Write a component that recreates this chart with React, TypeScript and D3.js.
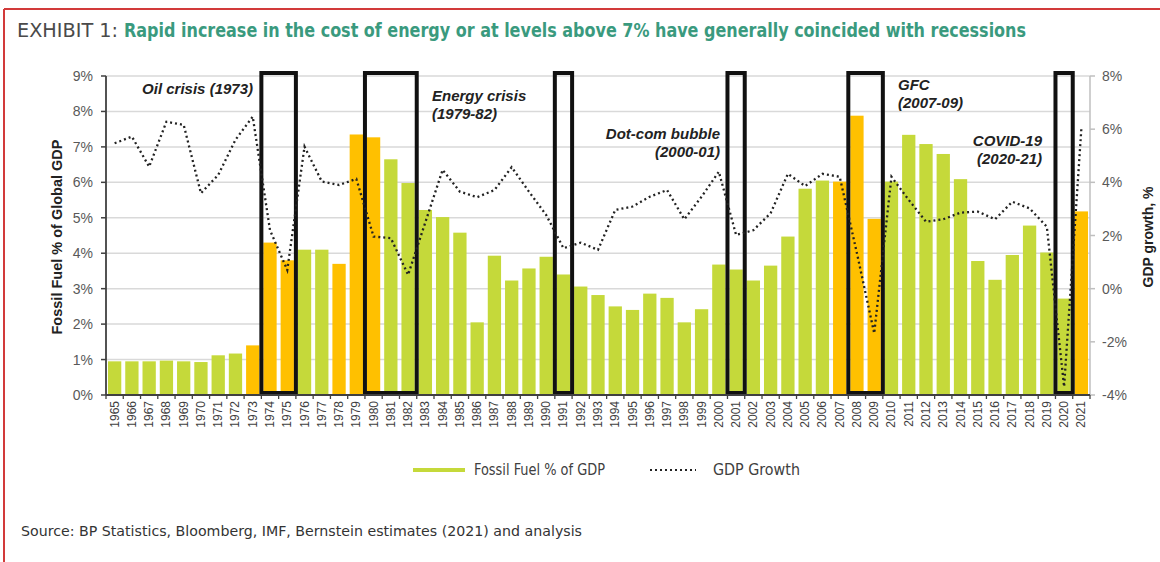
import React from "react";
import * as d3 from "d3";

const years = [
  "1965","1966","1967","1968","1969","1970","1971","1972","1973","1974",
  "1975","1976","1977","1978","1979","1980","1981","1982","1983","1984",
  "1985","1986","1987","1988","1989","1990","1991","1992","1993","1994",
  "1995","1996","1997","1998","1999","2000","2001","2002","2003","2004",
  "2005","2006","2007","2008","2009","2010","2011","2012","2013","2014",
  "2015","2016","2017","2018","2019","2020","2021",
];

// Fossil fuel spend as % of global GDP (left axis)
const fossilShare = [
  0.95, 0.95, 0.95, 0.97, 0.95, 0.93, 1.12, 1.17, 1.40, 4.30,
  3.80, 4.10, 4.10, 3.70, 7.35, 7.27, 6.65, 5.98, 5.22, 5.02,
  4.58, 2.05, 3.93, 3.23, 3.57, 3.90, 3.40, 3.06, 2.82, 2.50,
  2.40, 2.86, 2.74, 2.05, 2.42, 3.68, 3.54, 3.23, 3.65, 4.47,
  5.82, 6.05, 6.02, 7.88, 4.97, 6.02, 7.34, 7.08, 6.80, 6.09,
  3.78, 3.25, 3.95, 4.78, 4.02, 2.72, 5.18,
];

// World GDP growth % (right axis)
const gdpGrowth = [
  5.47, 5.72, 4.59, 6.28, 6.16, 3.59, 4.28, 5.60, 6.47, 2.20,
  0.70, 5.34, 4.03, 3.90, 4.13, 1.96, 1.90, 0.52, 2.50, 4.47,
  3.65, 3.44, 3.71, 4.57, 3.65, 2.77, 1.52, 1.73, 1.46, 2.96,
  3.09, 3.46, 3.71, 2.61, 3.46, 4.40, 2.02, 2.20, 2.84, 4.32,
  3.86, 4.32, 4.21, 1.33, -1.68, 4.21, 3.34, 2.52, 2.61, 2.86,
  2.90, 2.61, 3.27, 3.02, 2.33, -3.69, 6.03,
];

const highlightYears = ["1973","1974","1975","1978","1979","1980","2007","2008","2009","2021"];

const leftTicks = [0, 1, 2, 3, 4, 5, 6, 7, 8, 9];
const rightTicks = [-4, -2, 0, 2, 4, 6, 8];

const recessionBoxes = [
  ["1974", "1975"],
  ["1980", "1982"],
  ["1991", "1991"],
  ["2001", "2001"],
  ["2008", "2009"],
  ["2020", "2020"],
];

const annotations = [
  { lines: ["Oil crisis (1973)"], anchor: "end" },
  { lines: ["Energy crisis", "(1979-82)"], anchor: "start" },
  { lines: ["Dot-com bubble", "(2000-01)"], anchor: "end" },
  { lines: ["GFC", "(2007-09)"], anchor: "start" },
  { lines: ["COVID-19", "(2020-21)"], anchor: "end" },
];
const annotationPos = [
  { x: 253, y: 94 },
  { x: 432, y: 101 },
  { x: 720, y: 139 },
  { x: 898, y: 90 },
  { x: 1042, y: 146 },
];

const GREEN = "#c5d93a";
const ORANGE = "#ffc000";
const FONT = "'Liberation Sans', Arial, sans-serif";
const NARROW = "'Liberation Sans Narrow', 'Arial Narrow', 'DejaVu Sans Condensed', 'Liberation Sans', sans-serif";

export default function App() {
  const W = 1160, H = 562;
  const left = 106, right = 1090, top = 76, bottom = 395;

  const x = d3.scaleBand<string>().domain(years).range([left, right]).padding(0);
  const step = x.bandwidth();
  const barW = step * 0.77;
  const yL = d3.scaleLinear().domain([0, 9]).range([bottom, top]);
  const yR = d3.scaleLinear().domain([-4, 8]).range([bottom, top]);

  const line = d3
    .line<number>()
    .x((_, i) => (x(years[i]) as number) + step / 2)
    .y((d) => yR(d));

  return (
    <svg
      width={W}
      height={H}
      style={{ position: "absolute", left: 0, top: 0, background: "#fff" }}
      xmlns="http://www.w3.org/2000/svg"
    >
      <rect x={0} y={0} width={W} height={H} fill="#fff" />
      {/* red frame */}
      <line x1={4} y1={9} x2={W} y2={9} stroke="#d23a3a" strokeWidth={2} />
      <line x1={4} y1={9} x2={4} y2={H} stroke="#d23a3a" strokeWidth={2} />

      {/* title */}
      <text x={17} y={37} fontFamily={NARROW} fontSize={19} fill="#4a4a4a" textLength={101} lengthAdjust="spacingAndGlyphs">
        EXHIBIT 1:
      </text>
      <text x={124} y={37} fontFamily={NARROW} fontSize={19} fontWeight="bold" fill="#3a9a7e" textLength={902} lengthAdjust="spacingAndGlyphs">
        Rapid increase in the cost of energy or at levels above 7% have generally coincided with recessions
      </text>

      {/* gridlines */}
      {leftTicks.filter((t) => t > 0).map((t) => (
        <line key={"g" + t} x1={left} x2={right} y1={yL(t)} y2={yL(t)} stroke="#d9d9d9" strokeWidth={1.5} />
      ))}

      {/* bars */}
      {years.map((yr, i) => (
        <rect
          key={yr}
          x={(x(yr) as number) + (step - barW) / 2}
          y={yL(fossilShare[i])}
          width={barW}
          height={yL(0) - yL(fossilShare[i])}
          fill={highlightYears.includes(yr) ? ORANGE : GREEN}
        />
      ))}

      {/* recession boxes */}
      {recessionBoxes.map(([a, b]) => {
        const x0 = x(a) as number;
        const x1 = (x(b) as number) + step;
        return (
          <rect key={a} x={x0} y={73} width={x1 - x0} height={bottom - 2 - 73} fill="none" stroke="#111" strokeWidth={4} />
        );
      })}

      {/* GDP growth line */}
      <path d={line(gdpGrowth) || ""} fill="none" stroke="#222" strokeWidth={2.3} strokeDasharray="2 3" />

      {/* left axis */}
      <line x1={left} x2={left} y1={top} y2={bottom} stroke="#404040" strokeWidth={1.8} />
      {leftTicks.map((t) => (
        <g key={"l" + t}>
          <line x1={left - 5} x2={left} y1={yL(t)} y2={yL(t)} stroke="#404040" strokeWidth={1.5} />
          <text x={93} y={yL(t) + 5} textAnchor="end" fontFamily={FONT} fontSize={14} fill="#595959">
            {t}%
          </text>
        </g>
      ))}

      {/* right axis */}
      <line x1={right} x2={right} y1={top} y2={bottom} stroke="#bfbfbf" strokeWidth={1.5} />
      {rightTicks.map((t) => (
        <g key={"r" + t}>
          <line x1={right} x2={right + 5} y1={yR(t)} y2={yR(t)} stroke="#bfbfbf" strokeWidth={1.5} />
          <text x={1102} y={yR(t) + 5} fontFamily={FONT} fontSize={14} fill="#595959">
            {t}%
          </text>
        </g>
      ))}

      {/* x axis */}
      <line x1={left} x2={right} y1={bottom} y2={bottom} stroke="#404040" strokeWidth={1.8} />
      {years.map((yr) => (
        <line key={"t" + yr} x1={x(yr) as number} x2={x(yr) as number} y1={bottom} y2={bottom + 4} stroke="#404040" strokeWidth={1.3} />
      ))}
      <line x1={right} x2={right} y1={bottom} y2={bottom + 4} stroke="#404040" strokeWidth={1.3} />
      {years.map((yr) => {
        const cx = (x(yr) as number) + step / 2 + 4;
        return (
          <text key={"y" + yr} transform={`translate(${cx},401) rotate(-90)`} textAnchor="end" fontFamily={FONT} fontSize={12} fill="#404040">
            {yr}
          </text>
        );
      })}

      {/* axis titles */}
      <text transform="translate(62,237) rotate(-90)" textAnchor="middle" fontFamily={FONT} fontSize={14.5} fontWeight="bold" fill="#222">
        Fossil Fuel % of Global GDP
      </text>
      <text transform="translate(1153,237) rotate(-90)" textAnchor="middle" fontFamily={FONT} fontSize={14} fontWeight="bold" fill="#222">
        GDP growth, %
      </text>

      {/* annotations */}
      {annotations.map((a, i) => (
        <text key={"a" + i} x={annotationPos[i].x} y={annotationPos[i].y} textAnchor={a.anchor as any} fontFamily={FONT} fontSize={15} fontWeight="bold" fontStyle="italic" fill="#222">
          {a.lines.map((ln, j) => (
            <tspan key={j} x={annotationPos[i].x} dy={j === 0 ? 0 : 18}>
              {ln}
            </tspan>
          ))}
        </text>
      ))}

      {/* legend */}
      <line x1={413} x2={465} y1={470} y2={470} stroke={GREEN} strokeWidth={4} />
      <text x={474} y={475} fontFamily={NARROW} fontSize={15} fill="#404040" textLength={131} lengthAdjust="spacingAndGlyphs">
        Fossil Fuel % of GDP
      </text>
      <line x1={650} x2={696} y1={470} y2={470} stroke="#222" strokeWidth={2} strokeDasharray="2 3" />
      <text x={713} y={475} fontFamily={NARROW} fontSize={15} fill="#404040" textLength={87} lengthAdjust="spacingAndGlyphs">
        GDP Growth
      </text>

      {/* source */}
      <text x={21} y={536} fontFamily={NARROW} fontSize={14.5} fill="#333" textLength={561} lengthAdjust="spacingAndGlyphs">
        Source: BP Statistics, Bloomberg, IMF, Bernstein estimates (2021) and analysis
      </text>
    </svg>
  );
}
